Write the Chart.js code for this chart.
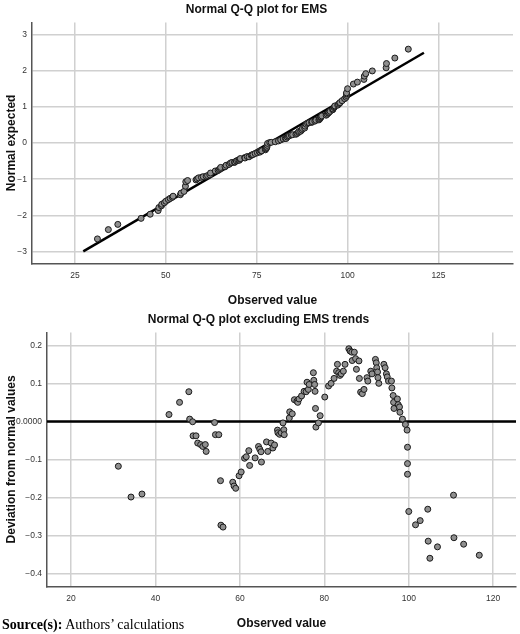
<!DOCTYPE html>
<html>
<head>
<meta charset="utf-8">
<script src="https://cdn.jsdelivr.net/npm/chart.js@4/dist/chart.umd.min.js"></script>
<style>
  body{margin:0;background:#fff;width:520px;height:634px;overflow:hidden;font-family:"Liberation Sans",Arial,sans-serif;}
  #c1{position:absolute;left:0;top:0;}
  #c2{position:absolute;left:0;top:310px;}
  #src{position:absolute;left:2px;top:617px;font-family:"Liberation Serif","Times New Roman",serif;font-size:14px;}
</style>
</head>
<body>
<canvas id="c1" width="520" height="312"></canvas>
<canvas id="c2" width="520" height="325"></canvas>
<div id="src"><b>Source(s):</b> Authors’ calculations</div>
<script>
// ----------------- data -----------------
// observed values and their deviation from the normal line (detrended plot)
const observed = [31.2,34.2,36.8,43.2,45.7,47.9,48.1,48.8,48.9,49.6,50.0,50.7,51.2,51.8,52.0,54.0,54.2,55.0,55.4,55.5,56.0,
  58.3,58.6,59.0,59.8,60.3,61.1,61.5,62.1,62.3,63.6,64.4,64.7,65.0,65.1,66.3,66.6,67.4,67.8,68.2,68.9,69.0,69.4,69.8,70.2,70.4,70.5,
  71.7,71.8,72.4,72.9,73.5,73.7,74.0,74.6,75.2,75.7,75.9,76.2,76.4,77.4,77.5,77.7,77.8,77.9,78.0,78.6,79.0,80.1,81.0,81.6,82.3,
  82.9,83.1,83.4,83.7,84.0,84.5,84.9,85.8,86.1,86.5,86.6,87.1,87.4,87.6,88.2,88.3,88.6,89.0,89.4,90.1,90.3,91.0,91.3,92.1,92.3,
  92.4,92.6,92.7,92.9,94.1,94.4,94.7,94.9,95.2,95.9,96.0,96.3,96.4,96.5,97.3,97.5,97.8,97.9,98.5,99.2,99.6,99.7,99.7,99.7,100.0,
  101.6,102.7,104.5,104.6,105.0,106.8,110.6,110.7,113.0,116.7];
const deviation = [-0.118,-0.199,-0.191,0.018,0.050,0.078,0.006,-0.001,-0.038,-0.038,-0.057,-0.061,-0.066,-0.061,-0.079,-0.003,-0.035,-0.035,-0.156,-0.273,-0.278,
  -0.160,-0.170,-0.176,-0.143,-0.133,-0.097,-0.093,-0.077,-0.116,-0.096,-0.066,-0.073,-0.080,-0.107,-0.054,-0.079,-0.057,-0.070,-0.062,-0.023,-0.030,-0.034,-0.030,-0.004,-0.022,-0.035,
  0.009,0.025,0.020,0.057,0.053,0.050,0.059,0.067,0.079,0.078,0.103,0.084,0.097,0.128,0.108,0.097,0.079,0.034,-0.015,-0.004,0.015,0.064,0.093,0.100,0.113,
  0.132,0.150,0.128,0.121,0.125,0.132,0.150,0.191,0.185,0.182,0.160,0.182,0.165,0.137,0.159,0.113,0.077,0.073,0.084,0.115,0.106,0.132,0.125,0.163,0.154,
  0.141,0.130,0.115,0.100,0.150,0.141,0.125,0.117,0.106,0.106,0.088,0.068,0.050,0.034,0.059,0.044,0.038,0.024,0.006,-0.008,-0.023,-0.068,-0.111,-0.139,-0.237,
  -0.272,-0.261,-0.231,-0.315,-0.360,-0.330,-0.194,-0.306,-0.323,-0.352];
// normal reference line (mean, sd)
const lineMean = 78.4, lineSd = 17.04;
const lineX = [27.3, 121];
const topXTicks = [25,50,75,100,125];
const topYTicks = [-3,-2,-1,0,1,2,3];
const botXTicks = [20,40,60,80,100,120];
const botYTicks = [-0.4,-0.3,-0.2,-0.1,0,0.1,0.2];

// expected normal value = standardised observed minus deviation
const qqPoints = observed.map((x,i)=>({x:x, y:(x-lineMean)/lineSd - deviation[i]}));
const detPoints = observed.map((x,i)=>({x:x, y:deviation[i]}));
const qqLine = lineX.map(x=>({x:x, y:(x-lineMean)/lineSd}));

const font = '"Liberation Sans", Arial, sans-serif';
const minus = v => String(v).replace('-', '\u2212');
const dot = {backgroundColor:'#8f8f8f', borderColor:'#1a1a1a', borderWidth:1, pointRadius:3, pointHoverRadius:3, showLine:false};
const grid = {color:'#d0d0d0', lineWidth:1.5, drawTicks:false};
const border = {color:'#555', width:1.5};

function makeChart(id, cfg){
  return new Chart(document.getElementById(id),{
    type:'scatter',
    data:{datasets:cfg.datasets},
    options:{
      responsive:false, animation:false, events:[],
      layout:{padding:cfg.padding},
      plugins:{legend:{display:false}, tooltip:{enabled:false},
        title:{display:true, text:cfg.title, color:'#111', font:{family:font, size:12, weight:'bold'}, padding:{top:2,bottom:6}}},
      scales:{
        x:{type:'linear', min:cfg.xMin, max:cfg.xMax, grid:grid, border:border,
          afterBuildTicks:a=>{a.ticks=cfg.xTicks.map(v=>({value:v}));},
          ticks:{color:'#333', font:{family:font,size:8.5}, padding:7, callback:v=>minus(v)},
          title:{display:true, text:'Observed value', color:'#111', font:{family:font,size:12,weight:'bold'}, padding:{top:6}}},
        y:{type:'linear', min:cfg.yMin, max:cfg.yMax, grid:grid, border:border,
          afterBuildTicks:a=>{a.ticks=cfg.yTicks.map(v=>({value:v}));},
          afterFit:a=>{a.width=cfg.yWidth;},
          ticks:{color:'#333', font:{family:font,size:8.5}, padding:5, callback:cfg.yLabel},
          title:{display:true, text:cfg.yTitle, color:'#111', font:{family:font,size:12,weight:'bold'}, padding:{bottom:0}}}
      }
    }
  });
}

makeChart('c1',{
  title:'Normal Q-Q plot for EMS', yTitle:'Normal expected',
  xMin:13.2, xMax:145.5, yMin:-3.33, yMax:3.34, xTicks:topXTicks, yTicks:topYTicks,
  yWidth:32, padding:{left:0,right:7,top:0,bottom:0},
  yLabel:v=>minus(v),
  datasets:[
    Object.assign({data:qqPoints}, dot),
    {data:qqLine, showLine:true, borderColor:'#000', borderWidth:2.5, pointRadius:0}
  ]
});

makeChart('c2',{
  title:'Normal Q-Q plot excluding EMS trends', yTitle:'Deviation from normal values',
  xMin:14.3, xMax:125.4, yMin:-0.434, yMax:0.234, xTicks:botXTicks, yTicks:botYTicks,
  yWidth:47, padding:{left:0,right:3,top:0,bottom:0},
  yLabel:v=>Math.abs(v)<1e-9 ? '0.0000' : minus(Math.round(v*10)/10),
  datasets:[
    Object.assign({data:detPoints}, dot),
    {data:[{x:14.3,y:0},{x:125.4,y:0}], showLine:true, borderColor:'#000', borderWidth:2.5, pointRadius:0}
  ]
});
</script>
</body>
</html>
